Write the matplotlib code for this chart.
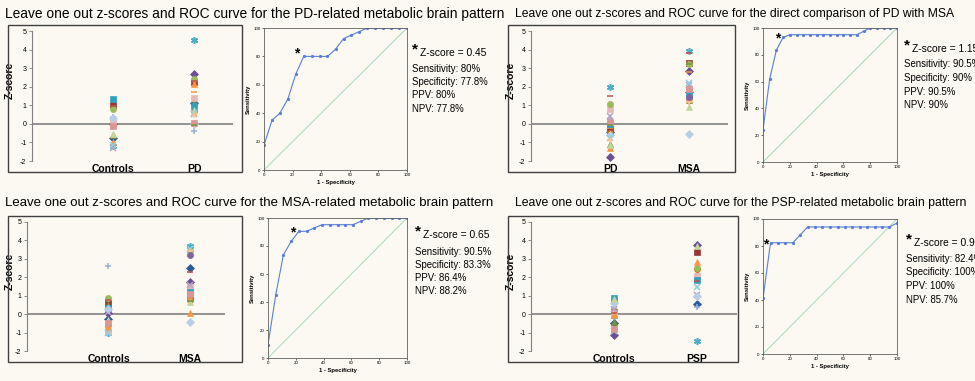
import matplotlib
matplotlib.use("Agg")
import matplotlib.pyplot as plt
from matplotlib.patches import Rectangle

plt.rcParams['font.family'] = ['Liberation Sans', 'DejaVu Sans']
plt.rcParams['axes.unicode_minus'] = False

W, H = 975, 381
BG = '#fbf9f1'

# ---------------- data ----------------
titles = [
    "Leave one out z-scores and ROC curve for the PD-related metabolic brain pattern",
    "Leave one out z-scores and ROC curve for the direct comparison of PD with MSA",
    "Leave one out z-scores and ROC curve for the MSA-related metabolic brain pattern",
    "Leave one out z-scores and ROC curve for the PSP-related metabolic brain pattern",
]
group_labels = [["Controls", "PD"], ["PD", "MSA"], ["Controls", "MSA"], ["Controls", "PSP"]]

pd_ctrl = [-0.75, 1.0, -0.6, 0.0, -1.2, -0.05, 0.35, 0.2, 0.02, 0.8, 1.35, -0.95, -1.3, 0.3, 0.95, -0.55, -1.15, -0.1]
pd_pd = [1.1, 2.25, 1.2, 2.7, 4.5, 0.7, -0.4, 1.7, 1.4, 2.4, 0.95, 2.15, 0.55, 0.0, 2.3, 0.75, 0.6, 0.05, 0.5, -0.05]

cmp_pd = [-0.45, -0.3, -1.1, -1.8, 2.0, -0.5, 0.25, -0.2, 0.8, 1.05, 0.0, -1.3, 0.4, -0.6, 1.5, -1.15, -0.75, 0.1, -0.85, -0.05]
cmp_msa = [1.7, 3.3, 1.3, 2.85, 3.9, 1.4, 1.25, 2.8, 1.85, 3.25, 1.55, 1.35, 2.1, -0.55, 3.8, 0.9, 2.2, 1.9, 1.2, 3.2, 1.45]

msa_ctrl = [-0.25, 0.6, 0.5, 0.05, -1.0, -0.6, 2.6, -0.75, -0.9, 0.85, 0.35, -0.7, 0.1, 0.3, 0.75, -0.3, -1.05, -0.5]
msa_msa = [2.5, 0.85, 1.3, 1.75, 3.7, 0.75, 0.7, 0.8, 1.5, 3.45, 1.2, 0.05, 1.6, -0.45, 2.3, 0.68, 3.55, 1.1, 3.4, 0.72, 3.2]

psp_ctrl = [-0.5, 0.1, -0.45, -1.15, -0.1, 0.15, 0.35, -0.2, 0.05, 0.7, 0.9, 0.0, 0.3, 0.6, 0.05, 0.8, -0.9, -0.8]
psp_psp = [0.55, 3.35, 2.15, 3.75, -1.45, 2.45, 0.4, 1.75, 2.05, 2.5, 1.85, 2.85, 1.05, 0.98, 1.8, 3.7, 1.5]

groups = [(pd_ctrl, pd_pd), (cmp_pd, cmp_msa), (msa_ctrl, msa_msa), (psp_ctrl, psp_psp)]

roc1_x = [0, 5.6, 11.1, 16.7, 22.2, 27.8, 33.3, 38.9, 44.4, 50, 55.6, 61.1, 66.7, 72.2, 77.8, 83.3, 88.9, 94.4, 100]
roc1_y = [17.5, 35, 40, 50, 67.5, 80, 80, 80, 80, 85, 92.5, 95, 97.5, 100, 100, 100, 100, 100, 100]
roc2_x = [0, 5, 10, 15, 20, 25, 30, 35, 40, 45, 50, 55, 60, 65, 70, 75, 80, 85, 90, 95, 100]
roc2_y = [24, 62, 83.5, 93, 95, 95, 95, 95, 95, 95, 95, 95, 95, 95, 95, 97.5, 100, 100, 100, 100, 100]
roc3_x = [0, 5.6, 11.1, 16.7, 22.2, 27.8, 33.3, 38.9, 44.4, 50, 55.6, 61.1, 66.7, 72.2, 77.8, 83.3, 88.9, 94.4, 100]
roc3_y = [9.5, 45.2, 73.8, 83.3, 90.5, 90.5, 92.9, 95.2, 95.2, 95.2, 95.2, 95.2, 97.6, 100, 100, 100, 100, 100, 100]
roc4_x = [0, 5.6, 11.1, 16.7, 22.2, 27.8, 33.3, 38.9, 44.4, 50, 55.6, 61.1, 66.7, 72.2, 77.8, 83.3, 88.9, 94.4, 100]
roc4_y = [41.2, 82.4, 82.4, 82.4, 82.4, 88.2, 94.1, 94.1, 94.1, 94.1, 94.1, 94.1, 94.1, 94.1, 94.1, 94.1, 94.1, 94.1, 97]
rocs = [(roc1_x, roc1_y), (roc2_x, roc2_y), (roc3_x, roc3_y), (roc4_x, roc4_y)]
cut_points = [(23, 82), (11, 92), (18, 90), (2, 81)]

cutoff = ["0.45", "1.15", "0.65", "0.94"]
sens = ["80%", "90.5%", "90.5%", "82.4%"]
spec = ["77.8%", "90%", "83.3%", "100%"]
ppv = ["80%", "90.5%", "86.4%", "100%"]
npv = ["77.8%", "90%", "88.2%", "85.7%"]

# ---------------- styles ----------------
asterisk = (6, 2, 0)
styles = [
    ('D', '#2f5c98'), ('s', '#953735'), ('^', '#77933c'), ('D', '#6a4f93'),
    (asterisk, '#4bacc6'), ('o', '#e46c0a'), ('+', '#95b3d7'), ('_', '#f79646'),
    ('s', '#e6b9b8'), ('o', '#9bbb59'), ('s', '#31a0c0'), ('^', '#f79646'),
    ('x', '#b3a2c7'), ('D', '#b9cde5'), ('_', '#c0504d'), ('^', '#c3d69b'),
    ('x', '#93cddd'), ('s', '#d99694'), ('+', '#fac090'), ('_', '#77933c'),
    ('o', '#8064a2'),
]

fig = plt.figure(figsize=(W / 100, H / 100), dpi=100, facecolor=BG)


def rect(x0, y0, x1, y1):
    return [x0 / W, 1 - y1 / H, (x1 - x0) / W, (y1 - y0) / H]


scat_axes = [
    (rect(32, 31, 233, 161), 2.48, (8, 25, 242, 172), -0.085),
    (rect(531, 31, 728, 161), 2.49, (508, 25, 735, 172), -0.076),
    (rect(27, 222, 225, 351), 2.43, (8, 216, 242, 362), -0.06),
    (rect(531, 222, 737, 351), 2.48, (508, 216, 738, 362), -0.073),
]
roc_axes = [
    rect(264, 28, 407, 170),
    rect(763, 28, 897, 162),
    rect(268, 218, 407, 358),
    rect(763, 219, 897, 354),
]
title_pos = [(5, 14), (515, 14), (5, 203), (515, 203)]
title_size = [9.9, 8.75, 9.5, 8.8]
text_pos = [
    (412, 53, [69, 82, 95, 109]),
    (904, 49, [64, 78, 92, 105]),
    (415, 235, [252, 265, 278, 291]),
    (906, 243, [259, 272, 286, 300]),
]

for i in range(4):
    pos, xmax, box, lblx = scat_axes[i]
    fig.patches.append(Rectangle((box[0] / W, 1 - box[3] / H), (box[2] - box[0]) / W,
                                 (box[3] - box[1]) / H, transform=fig.transFigure,
                                 fill=False, edgecolor='#404040', linewidth=1.0))
    ax = fig.add_axes(pos)
    ax.set_facecolor('none')
    ctrl, pat = groups[i]
    for gx, vals in ((1, ctrl), (2, pat)):
        for k, v in enumerate(vals):
            m, c = styles[k % len(styles)]
            thin = m in ('+', '_', 'x', asterisk)
            ax.plot([gx], [v], marker=m, color=c, markersize=5 if thin else 4.4,
                    markeredgewidth=1.1 if thin else 0.5, linestyle='none')
    ax.axhline(0, color='#808080', linewidth=1.2, zorder=0)
    ax.set_xlim(0, xmax)
    ax.set_ylim(-2, 5)
    for s in ('top', 'right', 'bottom'):
        ax.spines[s].set_visible(False)
    ax.spines['left'].set_color('#808080')
    ax.spines['left'].set_linewidth(0.8)
    ax.set_yticks(range(-2, 6))
    ax.tick_params(axis='y', labelsize=5, length=2, width=0.6, color='#808080', pad=2)
    ax.set_xticks([1, 2])
    ax.set_xticklabels(group_labels[i], fontsize=7.5, fontweight='bold')
    ax.tick_params(axis='x', length=0, pad=2)
    ax.set_ylabel('Z-score', fontsize=7.5, fontweight='bold')
    ax.yaxis.set_label_coords(lblx, 0.62)

    # ROC
    rx = fig.add_axes(roc_axes[i])
    rx.set_facecolor('none')
    rx.plot([0, 100], [0, 100], color='#a9dbb2', linewidth=0.7)
    xs, ys = rocs[i]
    rx.plot(xs, ys, color='#5b7fd6', linewidth=0.8, marker='o', markersize=1.3)
    cx, cy = cut_points[i]
    rx.text(cx, cy, '*', fontsize=10, ha='center', va='center', fontweight='bold')
    rx.set_xlim(0, 100)
    rx.set_ylim(0, 100)
    rx.set_xticks(range(0, 101, 20))
    rx.set_yticks(range(0, 101, 20))
    rx.tick_params(labelsize=3.2, length=1.5, width=0.4, pad=1)
    for s in rx.spines.values():
        s.set_linewidth(0.6)
        s.set_color('#606060')
    rx.set_xlabel('1 - Specificity', fontsize=4.2, fontweight='bold', labelpad=2)
    rx.set_ylabel('Sensitivity', fontsize=4.2, fontweight='bold', labelpad=2)

    # title
    tx, ty = title_pos[i]
    fig.text(tx / W, 1 - ty / H, titles[i], fontsize=title_size[i], ha='left', va='center')

    # text block
    x0, y0, ys_ = text_pos[i]
    fig.text(x0 / W, 1 - (y0 - 4) / H, '*', fontsize=11, fontweight='bold', ha='left', va='center')
    fig.text((x0 + 8) / W, 1 - y0 / H, 'Z-score = ' + cutoff[i], fontsize=7.4, ha='left', va='center')
    lines = ['Sensitivity: ' + sens[i], 'Specificity: ' + spec[i], 'PPV: ' + ppv[i], 'NPV: ' + npv[i]]
    for yy, ln in zip(ys_, lines):
        fig.text(x0 / W, 1 - yy / H, ln, fontsize=6.9, ha='left', va='center')

fig.savefig('out.png', dpi=100, facecolor=BG)
